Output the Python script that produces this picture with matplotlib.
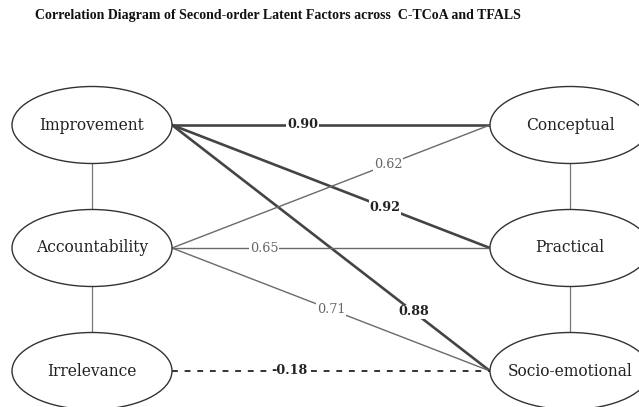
import matplotlib
matplotlib.use("Agg")
import matplotlib.pyplot as plt
from matplotlib.patches import Ellipse

title = "Correlation Diagram of Second-order Latent Factors across  C-TCoA and TFALS"
left_factors = ["Improvement", "Accountability", "Irrelevance"]
right_factors = ["Conceptual", "Practical", "Socio-emotional"]
edge_from = ["Improvement", "Improvement", "Improvement", "Accountability", "Accountability", "Accountability", "Irrelevance"]
edge_to = ["Conceptual", "Practical", "Socio-emotional", "Conceptual", "Practical", "Socio-emotional", "Socio-emotional"]
correlations = [0.90, 0.92, 0.88, 0.62, 0.65, 0.71, -0.18]

# layout (pixels)
W, H = 639, 407
fig = plt.figure(figsize=(W / 100, H / 100), dpi=100)
ax = fig.add_axes([0, 0, 1, 1])
ax.set_xlim(0, W)
ax.set_ylim(H, 0)
ax.axis("off")

ew, eh = 160, 77
lx, rx = 92, 570
rows_y = [125, 248, 371]
pos = {}
for n, y in zip(left_factors, rows_y):
    pos[n] = (lx, y)
for n, y in zip(right_factors, rows_y):
    pos[n] = (rx, y)

serif = ["DejaVu Serif"]

# vertical connectors
for x in (lx, rx):
    for i in range(2):
        ax.plot([x, x], [rows_y[i] + eh / 2, rows_y[i + 1] - eh / 2], color="#777777", lw=0.9, zorder=1)

# label positions as fractions along the edge
label_t = [0.41, 0.67, 0.76, 0.68, 0.29, 0.50, 0.37]
for a, b, r, t in zip(edge_from, edge_to, correlations, label_t):
    x0, y0 = pos[a]
    x1, y1 = pos[b]
    x0 += ew / 2
    x1 -= ew / 2
    strong = abs(r) >= 0.8
    if r < 0:
        ax.plot([x0, x1], [y0, y1], color="#333333", lw=1.4, ls=(0, (3, 3.5)), zorder=1)
        col, fw = "#222222", "bold"
    elif strong:
        ax.plot([x0, x1], [y0, y1], color="#444444", lw=1.9, zorder=1)
        col, fw = "#222222", "bold"
    else:
        ax.plot([x0, x1], [y0, y1], color="#6a6a6a", lw=1.0, zorder=1)
        col, fw = "#666666", "normal"
    tx = x0 + (x1 - x0) * t
    ty = y0 + (y1 - y0) * t
    ax.text(tx, ty, f"{r:.2f}", ha="center", va="center", fontsize=9.2, color=col,
            fontweight=fw, family=serif, zorder=3,
            bbox=dict(boxstyle="square,pad=0.05", fc="white", ec="none"))

for n, (x, y) in pos.items():
    ax.add_patch(Ellipse((x, y), ew, eh, fc="white", ec="#333333", lw=1.0, zorder=2))
    ax.text(x, y, n, ha="center", va="center", fontsize=11.2, color="#222222", family=serif, zorder=4)

ax.text(278, 15, title, ha="center", va="center", fontsize=10, fontweight="bold",
        family=["Liberation Serif"], color="#111111")

fig.savefig("out.png", dpi=100)
